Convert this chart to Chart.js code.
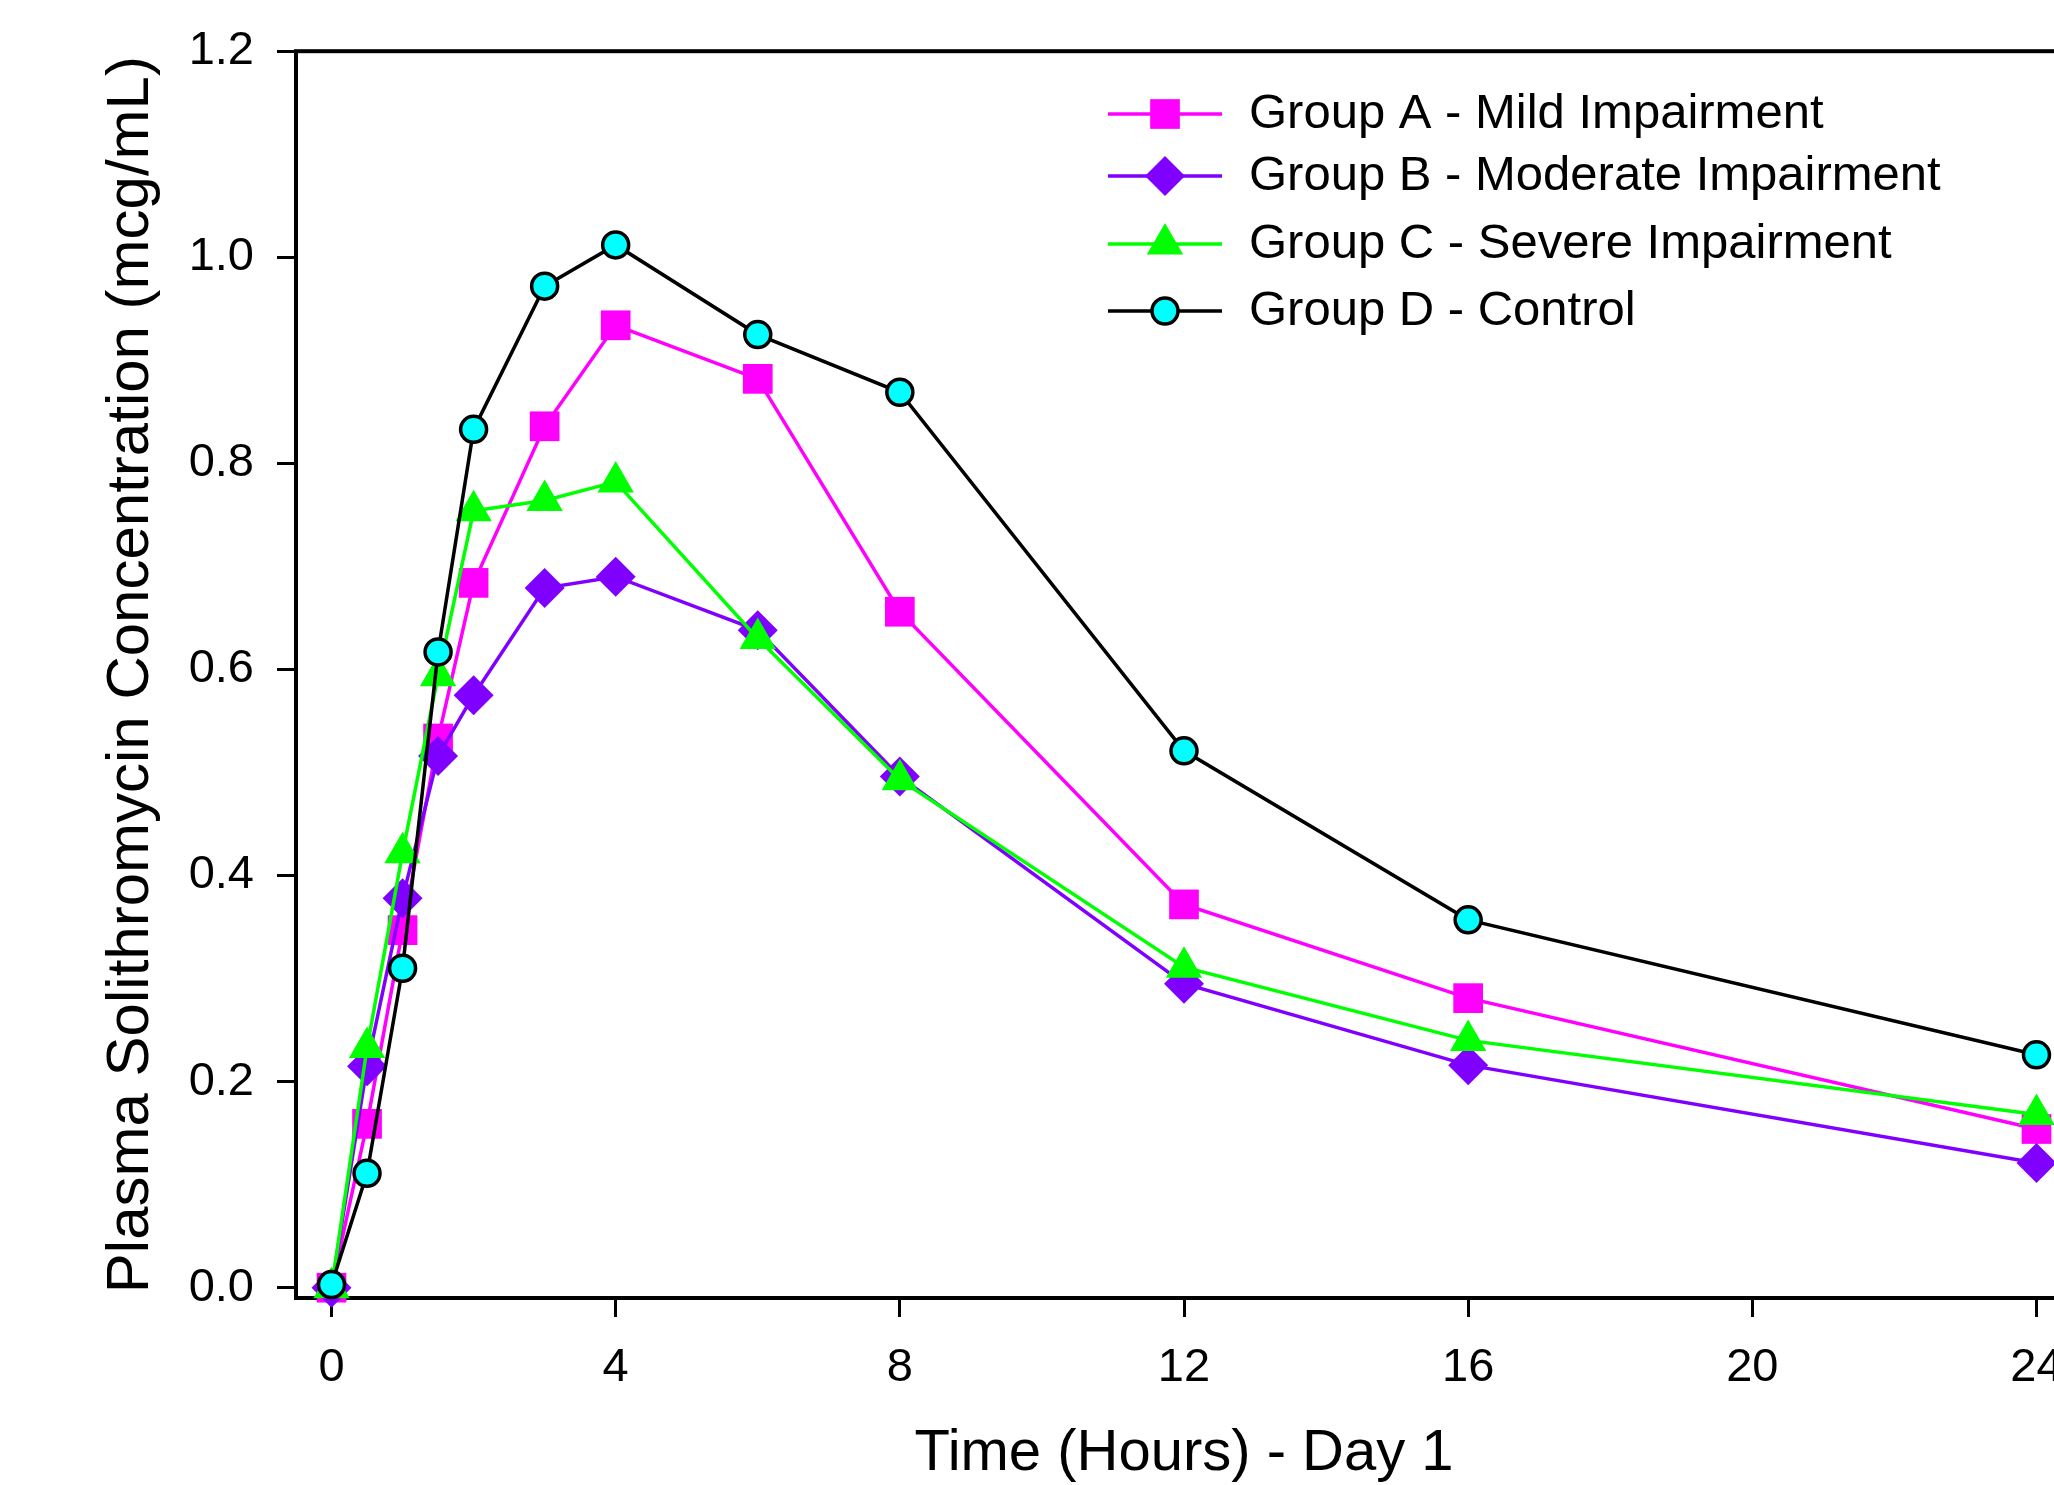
<!DOCTYPE html>
<html>
<head>
<meta charset="utf-8">
<title>Plasma Solithromycin Concentration</title>
<script src="https://cdn.jsdelivr.net/npm/chart.js@4.4.1/dist/chart.umd.min.js"></script>
<style>
html, body { margin: 0; padding: 0; overflow: hidden; background: #fff; }
canvas { display: block; }
</style>
</head>
<body>
<canvas id="pkChart" width="2120" height="1485"></canvas>
<script>
// sampling times (hours) and mean concentrations (mcg/mL) per group
const hours = [0, 0.5, 1, 1.5, 2, 3, 4, 6, 8, 12, 16, 24];
const groupA = [0, 0.159, 0.347, 0.533, 0.684, 0.836, 0.934, 0.882, 0.656, 0.372, 0.281, 0.154];
const groupB = [0, 0.215, 0.378, 0.516, 0.575, 0.679, 0.690, 0.638, 0.496, 0.295, 0.216, 0.121];
const groupC = [0, 0.233, 0.422, 0.594, 0.754, 0.764, 0.782, 0.630, 0.493, 0.311, 0.240, 0.168];
const groupD = [0.003, 0.111, 0.310, 0.617, 0.833, 0.972, 1.012, 0.925, 0.869, 0.521, 0.357, 0.226];

const seriesNames = [
    'Group A - Mild Impairment',
    'Group B - Moderate Impairment',
    'Group C - Severe Impairment',
    'Group D - Control'
];

const xTicks = [0, 4, 8, 12, 16, 20, 24];
const yTicks = [0, 0.2, 0.4, 0.6, 0.8, 1.0, 1.2];

const FONT = "'Liberation Sans', Arial, sans-serif";

function toPoints(values) {
    return hours.map((h, i) => ({ x: h, y: values[i] }));
}

// box around the plot area (right side runs off the picture)
const framePlugin = {
    id: 'frame',
    beforeDatasetsDraw(chart) {
        const { ctx, chartArea: a } = chart;
        ctx.save();
        ctx.strokeStyle = '#000';
        ctx.lineWidth = 4;
        ctx.strokeRect(a.left, a.top, a.right - a.left, a.bottom - a.top);
        ctx.restore();
    }
};

// legend drawn inside the plot, top right
const insideLegend = {
    id: 'insideLegend',
    afterDraw(chart) {
        const ctx = chart.ctx;
        const rows = [114, 176, 244, 311];
        const lineX1 = 1108, lineX2 = 1222, textX = 1249;
        ctx.save();
        chart.data.datasets.forEach((ds, i) => {
            const y = rows[i];
            ctx.strokeStyle = ds.borderColor;
            ctx.lineWidth = ds.borderWidth;
            ctx.beginPath();
            ctx.moveTo(lineX1, y);
            ctx.lineTo(lineX2, y);
            ctx.stroke();

            ctx.fillStyle = ds.pointBackgroundColor;
            ctx.strokeStyle = ds.pointBorderColor;
            ctx.lineWidth = ds.pointBorderWidth;
            Chart.helpers.drawPoint(ctx, {
                pointStyle: ds.pointStyle,
                radius: ds.pointRadius,
                rotation: 0,
                borderWidth: ds.pointBorderWidth
            }, (lineX1 + lineX2) / 2, y);

            ctx.fillStyle = '#000';
            ctx.font = '49px ' + FONT;
            ctx.textAlign = 'left';
            ctx.textBaseline = 'middle';
            ctx.fillText(ds.label, textX, y);
        });
        ctx.restore();
    }
};

const ctx = document.getElementById('pkChart').getContext('2d');
new Chart(ctx, {
    type: 'line',
    data: {
        datasets: [
            {
                label: seriesNames[0],
                data: toPoints(groupA),
                borderColor: '#ff00ff',
                borderWidth: 3.5,
                pointStyle: 'rect',
                pointRadius: 21,
                pointBackgroundColor: '#ff00ff',
                pointBorderColor: '#ff00ff',
                pointBorderWidth: 0,
                order: 3
            },
            {
                label: seriesNames[1],
                data: toPoints(groupB),
                borderColor: '#8000ff',
                borderWidth: 3.5,
                pointStyle: 'rectRot',
                pointRadius: 20,
                pointBackgroundColor: '#8000ff',
                pointBorderColor: '#8000ff',
                pointBorderWidth: 0,
                order: 2
            },
            {
                label: seriesNames[2],
                data: toPoints(groupC),
                borderColor: '#00ff00',
                borderWidth: 3.5,
                pointStyle: 'triangle',
                pointRadius: 21,
                pointBackgroundColor: '#00ff00',
                pointBorderColor: '#00ff00',
                pointBorderWidth: 0,
                order: 1
            },
            {
                label: seriesNames[3],
                data: toPoints(groupD),
                borderColor: '#000000',
                borderWidth: 3.5,
                pointStyle: 'circle',
                pointRadius: 13,
                pointBackgroundColor: '#00ffff',
                pointBorderColor: '#000000',
                pointBorderWidth: 3.5,
                order: 0
            }
        ]
    },
    options: {
        responsive: false,
        devicePixelRatio: 1,
        animation: false,
        events: [],
        datasets: { line: { clip: false, tension: 0, fill: false } },
        layout: { padding: { top: 51, right: 48, left: 0, bottom: 0 } },
        plugins: {
            legend: { display: false },
            tooltip: { enabled: false }
        },
        scales: {
            x: {
                type: 'linear',
                min: -0.5,
                max: 24.5,
                afterBuildTicks: s => { s.ticks = xTicks.map(v => ({ value: v })); },
                afterFit: s => { s.height = 187; },
                ticks: {
                    color: '#000',
                    font: { family: FONT, size: 47 },
                    padding: 23,
                    maxRotation: 0,
                    autoSkip: false,
                    callback: v => String(v)
                },
                grid: {
                    drawOnChartArea: false,
                    drawTicks: true,
                    tickLength: 19,
                    tickWidth: 3,
                    tickColor: '#000'
                },
                border: { display: false },
                title: {
                    display: true,
                    text: 'Time (Hours) - Day 1',
                    color: '#000',
                    font: { family: FONT, size: 58, lineHeight: 1 },
                    padding: { top: 0, bottom: 2 }
                }
            },
            y: {
                type: 'linear',
                min: -0.01,
                max: 1.2,
                afterBuildTicks: s => { s.ticks = yTicks.map(v => ({ value: v })); },
                afterFit: s => { s.width = 296; },
                ticks: {
                    color: '#000',
                    font: { family: FONT, size: 47 },
                    padding: 23,
                    autoSkip: false,
                    callback: v => Number(v).toFixed(1)
                },
                grid: {
                    drawOnChartArea: false,
                    drawTicks: true,
                    tickLength: 19,
                    tickWidth: 3,
                    tickColor: '#000'
                },
                border: { display: false },
                title: {
                    display: true,
                    text: 'Plasma Solithromycin Concentration (mcg/mL)',
                    color: '#000',
                    font: { family: FONT, size: 60, lineHeight: 1 },
                    padding: { top: 101, bottom: 0 }
                }
            }
        }
    },
    plugins: [framePlugin, insideLegend]
});
</script>
</body>
</html>
